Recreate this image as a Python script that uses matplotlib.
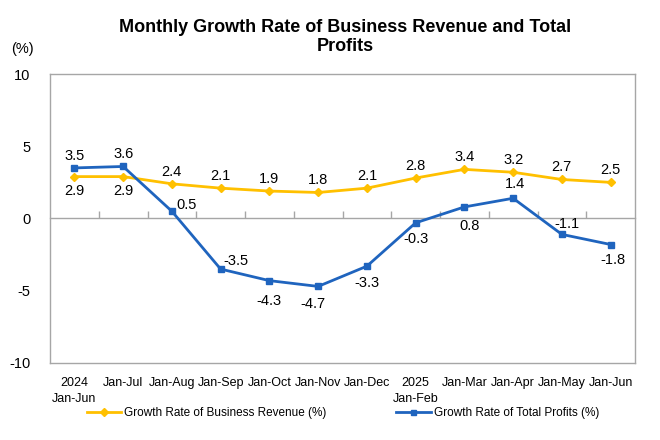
import matplotlib
matplotlib.use("Agg")
import numpy as np
import matplotlib.pyplot as plt

plt.rcParams["font.family"] = ["Liberation Sans", "DejaVu Sans"]
plt.rcParams["axes.unicode_minus"] = False

# data
periods = ["2024\nJan-Jun", "Jan-Jul", "Jan-Aug", "Jan-Sep", "Jan-Oct", "Jan-Nov",
           "Jan-Dec", "2025\nJan-Feb", "Jan-Mar", "Jan-Apr", "Jan-May", "Jan-Jun"]
revenue = [2.9, 2.9, 2.4, 2.1, 1.9, 1.8, 2.1, 2.8, 3.4, 3.2, 2.7, 2.5]
profits = [3.5, 3.6, 0.5, -3.5, -4.3, -4.7, -3.3, -0.3, 0.8, 1.4, -1.1, -1.8]

# label offsets in pixels (dx, dy)
REV_OFFS = [(0, -14), (0, -14)] + [(0, 12)] * 10
PROF_OFFS = [(0, 12), (0, 12), (15, 6), (15, 8), (0, -20), (-5, -18),
             (0, -17), (0, -16), (5, -19), (2, 14), (5, 10), (2, -15)]

ORANGE = "#FFC000"
BLUE = "#1F64BE"
GRAY = "#A6A6A6"

fig = plt.figure(figsize=(6.6, 4.4), dpi=100)
ax = fig.add_axes([50/660, 1-363/440, 585/660, 289/440])

x = np.arange(len(periods))
ax.plot(x, revenue, "-D", color=ORANGE, linewidth=2, markersize=4.5,
        label="Growth Rate of Business Revenue (%)")
ax.plot(x, profits, "-s", color=BLUE, linewidth=2, markersize=4.5,
        label="Growth Rate of Total Profits (%)")

for xi, v, (dx, dy) in zip(x, revenue, REV_OFFS):
    ax.annotate(f"{v:.1f}", (xi, v), xytext=(dx, dy), textcoords="offset pixels",
                ha="center", va="center", fontsize=10.5)
for xi, v, (dx, dy) in zip(x, profits, PROF_OFFS):
    ax.annotate(f"{v:.1f}", (xi, v), xytext=(dx, dy), textcoords="offset pixels",
                ha="center", va="center", fontsize=10.5)

ax.set_xlim(-0.5, len(periods) - 0.5)
ax.set_ylim(-10, 10)
ax.set_yticks([-10, -5, 0, 5, 10])
ax.set_xticks(x)
ax.set_xticklabels(periods, fontsize=9, linespacing=1.5)
ax.tick_params(axis="y", length=0, labelsize=10.5, pad=14)
ax.tick_params(axis="x", length=0, pad=10)
for s in ax.spines.values():
    s.set_color(GRAY)
    s.set_linewidth(1)

# zero axis with category boundary ticks
zero_ax = ax.secondary_xaxis(0.5)
zero_ax.set_xticks(np.arange(len(periods) - 1) + 0.5)
zero_ax.set_xticklabels([])
zero_ax.tick_params(length=5, color=GRAY, width=1, direction="out")
for s in zero_ax.spines.values():
    s.set_color(GRAY)
    s.set_linewidth(1)

fig.text(345/660, 1-37/440, "Monthly Growth Rate of Business Revenue and Total\nProfits",
         ha="center", va="center", fontsize=13, fontweight="bold", linespacing=1.15)
fig.text(22/660, 1-49/440, "(%)", ha="center", va="center", fontsize=10.5)

fig.legend(loc="center", bbox_to_anchor=(343/660, 1-413/440), ncol=2, frameon=False,
           fontsize=8.5, handlelength=2.9, columnspacing=5.9, handletextpad=0.25,
           markerscale=0.8)

fig.savefig("out.png", dpi=100)
